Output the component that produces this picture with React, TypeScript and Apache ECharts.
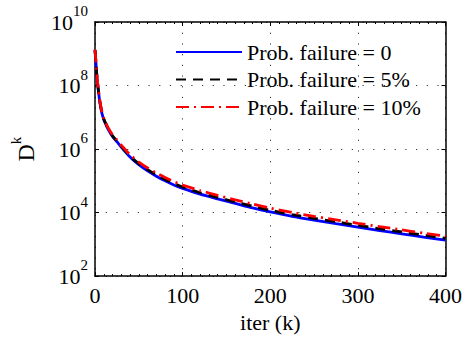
import React, { useEffect, useRef } from "react";
import * as echarts from "echarts";

const ITER = [0, 1, 2, 3, 4, 5, 6, 8, 10, 12, 15, 20, 25, 30, 40, 50, 60, 70, 80, 90, 100, 120, 140, 160, 180, 200, 225, 250, 275, 300, 325, 350, 375, 400];

const FAIL_0 = [1.3e9, 5.6e8, 2.2e8, 1.1e8, 6.3e7, 3.8e7, 2.5e7, 1.3e7, 8.5e6, 6.3e6, 4.2e6, 2.5e6, 1.7e6, 1.15e6, 5.6e5, 3.2e5, 2.05e5, 1.4e5, 1.0e5, 7.4e4, 5.8e4, 3.8e4, 2.7e4, 1.95e4, 1.4e4, 1.05e4, 7.6e3, 5.8e3, 4.5e3, 3.5e3, 2.7e3, 2.15e3, 1.7e3, 1.35e3];

const FAIL_5 = [1.3e9, 5.8e8, 2.3e8, 1.15e8, 6.6e7, 4.0e7, 2.6e7, 1.35e7, 8.9e6, 6.6e6, 4.4e6, 2.6e6, 1.8e6, 1.22e6, 6.0e5, 3.45e5, 2.25e5, 1.55e5, 1.1e5, 8.2e4, 6.4e4, 4.2e4, 3.0e4, 2.15e4, 1.58e4, 1.18e4, 8.6e3, 6.6e3, 5.1e3, 4.0e3, 3.1e3, 2.45e3, 1.95e3, 1.55e3];

const FAIL_10 = [1.35e9, 6.0e8, 2.4e8, 1.2e8, 7.0e7, 4.2e7, 2.8e7, 1.45e7, 9.5e6, 7.0e6, 4.7e6, 2.8e6, 1.95e6, 1.32e6, 6.6e5, 3.9e5, 2.55e5, 1.78e5, 1.28e5, 9.5e4, 7.4e4, 4.9e4, 3.5e4, 2.5e4, 1.85e4, 1.38e4, 1.0e4, 7.6e3, 5.9e3, 4.6e3, 3.6e3, 2.85e3, 2.25e3, 1.8e3];

const SERIES_NAMES = ["Prob. failure = 0", "Prob. failure = 5%", "Prob. failure = 10%"];
const X_TICKS_MAX = 400;

const FONT = "Liberation Serif";

function pairs(vals: number[]) {
  return ITER.map((x, i) => [x, vals[i]]);
}

export default function App() {
  const ref = useRef<HTMLDivElement>(null);
  useEffect(() => {
    if (!ref.current) return;
    const chart = echarts.init(ref.current, null, { renderer: "svg" });
    const axisLine = { show: true, onZero: false, lineStyle: { color: "#000", width: 1.5 } };
    const gridLine = { show: true, lineStyle: { color: "#333", width: 1, type: [1.2, 9.5] } };
    const tickStyle = { color: "#000", width: 1 };
    const nRich = { n: { fontSize: 22, fontFamily: FONT, color: "#000" } };
    const supRich = {
      b: { fontSize: 22, fontFamily: FONT, color: "#000" },
      s: { fontSize: 15, fontFamily: FONT, color: "#000", padding: [0, 0, 22, 0] },
    };
    chart.setOption({
      animation: false,
      backgroundColor: "#fff",
      textStyle: { fontFamily: FONT },
      grid: { left: 93, right: 17, top: 22, bottom: 61, containLabel: false },
      legend: {
        orient: "vertical",
        left: 170,
        top: 36,
        itemWidth: 66,
        itemHeight: 14,
        itemGap: 5.5,
        itemStyle: { opacity: 0 },
        formatter: (name: string) => `{n|${name}}`,
        textStyle: { fontFamily: FONT, fontSize: 22, color: "#000", rich: nRich },
        data: SERIES_NAMES,
      },
      xAxis: [
        {
          type: "value",
          min: 0,
          max: X_TICKS_MAX,
          interval: 100,
          position: "bottom",
          axisLine,
          axisTick: { show: true, inside: true, length: 4, lineStyle: tickStyle },
          minorTick: { show: true, splitNumber: 10, length: 2, lineStyle: tickStyle },
          axisLabel: {
            fontFamily: FONT,
            fontSize: 22,
            color: "#000",
            margin: 8,
            formatter: (v: number) => `{n|${v}}`,
            rich: nRich,
          },
          splitLine: gridLine,
          name: "{n|iter (k)}",
          nameLocation: "middle",
          nameGap: 28,
          nameTextStyle: { fontFamily: FONT, fontSize: 22, color: "#000", rich: nRich },
        },
        {
          type: "value",
          min: 0,
          max: X_TICKS_MAX,
          interval: 100,
          position: "top",
          axisLine,
          axisTick: { show: true, inside: true, length: 4, lineStyle: tickStyle },
          minorTick: { show: true, splitNumber: 10, length: 2, lineStyle: tickStyle },
          axisLabel: { show: false },
          splitLine: { show: false },
        },
      ],
      yAxis: [
        {
          type: "log",
          logBase: 100,
          min: 1e2,
          max: 1e10,
          position: "left",
          axisLine,
          axisTick: { show: true, inside: true, length: 4, lineStyle: tickStyle },
          axisLabel: {
            margin: 7,
            fontFamily: FONT,
            formatter: (v: number) => `{b|10}{s|${Math.round(Math.log10(v))}}`,
            rich: supRich,
          },
          splitLine: gridLine,
          name: "{b|D}{s|k}",
          nameLocation: "middle",
          nameGap: 52,
          nameRotate: 90,
          nameTextStyle: {
            fontFamily: FONT,
            rich: {
              b: { fontSize: 24, fontFamily: FONT, color: "#000" },
              s: { fontSize: 15, fontFamily: FONT, color: "#000", padding: [0, 0, 20, 0] },
            },
          },
        },
        {
          type: "log",
          logBase: 100,
          min: 1e2,
          max: 1e10,
          position: "right",
          axisLine,
          axisTick: { show: true, inside: true, length: 4, lineStyle: tickStyle },
          axisLabel: { show: false },
          splitLine: { show: false },
        },
      ],
      series: [
        {
          name: SERIES_NAMES[0],
          type: "line",
          data: pairs(FAIL_0),
          symbol: "none",
          smooth: 0.2,
          lineStyle: { color: "#0000ff", width: 2.8, type: "solid" },
          itemStyle: { color: "#0000ff" },
        },
        {
          name: SERIES_NAMES[1],
          type: "line",
          data: pairs(FAIL_5),
          symbol: "none",
          smooth: 0.2,
          lineStyle: { color: "#000000", width: 2.8, type: [10, 7] },
          itemStyle: { color: "#000000" },
        },
        {
          name: SERIES_NAMES[2],
          type: "line",
          data: pairs(FAIL_10),
          symbol: "none",
          smooth: 0.2,
          lineStyle: { color: "#ff0000", width: 2.8, type: [13, 5, 2, 5] },
          itemStyle: { color: "#ff0000" },
        },
      ],
    });
    return () => chart.dispose();
  }, []);
  return <div ref={ref} style={{ position: "fixed", left: 0, top: 0, width: 465, height: 338 }} />;
}
